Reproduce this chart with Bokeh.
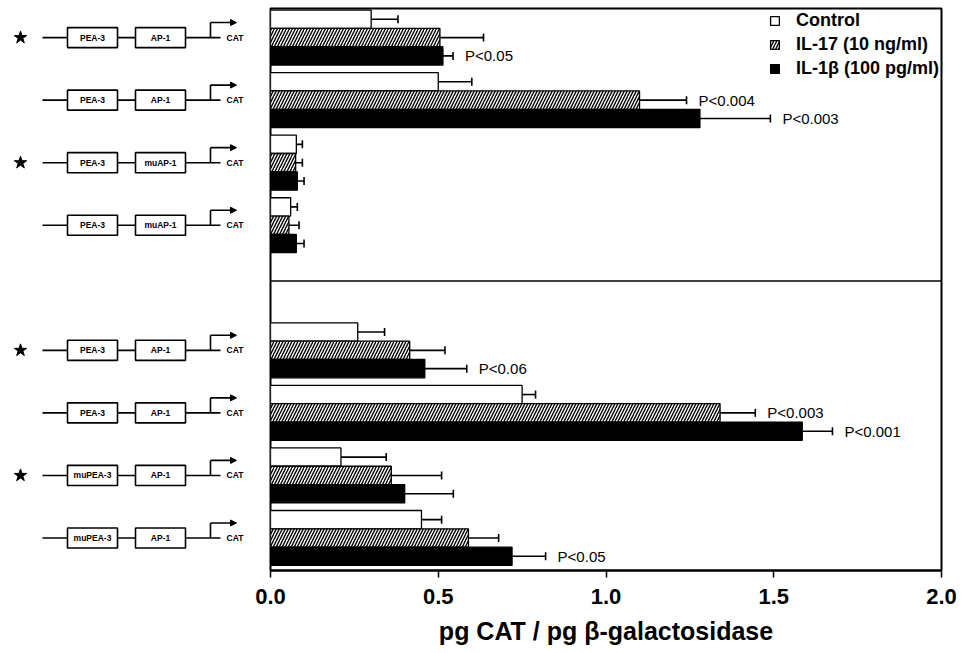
from bokeh.plotting import figure
from bokeh.models import (Range1d, ColumnDataSource, Whisker, TeeHead, Span, Legend, LegendItem,
                          FixedTicker, Arrow, NormalHead, NumeralTickFormatter)
from bokeh.layouts import row
from bokeh.embed import file_html
from bokeh.resources import INLINE
from bokeh.core.properties import value

# ---------------- data ----------------
box1_labels = ["PEA-3", "PEA-3", "PEA-3", "PEA-3", "PEA-3", "PEA-3", "muPEA-3", "muPEA-3"]
box2_labels = ["AP-1", "AP-1", "muAP-1", "muAP-1", "AP-1", "AP-1", "AP-1", "AP-1"]
starred = [True, False, True, False, True, False, True, False]

series_names = ["Control", "IL-17 (10 ng/ml)", "IL-1β (100 pg/ml)"]
control = [0.30, 0.50, 0.077, 0.060, 0.26, 0.75, 0.21, 0.45]
control_err = [0.08, 0.10, 0.018, 0.020, 0.08, 0.04, 0.135, 0.06]
il17 = [0.505, 1.10, 0.075, 0.055, 0.415, 1.34, 0.36, 0.59]
il17_err = [0.13, 0.14, 0.020, 0.030, 0.105, 0.105, 0.15, 0.09]
il1b = [0.514, 1.28, 0.080, 0.077, 0.46, 1.585, 0.40, 0.72]
il1b_err = [0.03, 0.21, 0.020, 0.023, 0.125, 0.09, 0.145, 0.10]

p_group = [0, 1, 1, 4, 5, 5, 7]
p_series = [2, 1, 2, 2, 1, 2, 2]
p_text = ["P<0.05", "P<0.004", "P<0.003", "P<0.06", "P<0.003", "P<0.001", "P<0.05"]

x_ticks = [0.0, 0.5, 1.0, 1.5, 2.0]
x_title = "pg CAT / pg β-galactosidase"

# ---------------- layout helpers ----------------
n = len(control)
slots = [i + (1 if i >= 4 else 0) for i in range(n)]
bar_h = 0.293
FONT = "Liberation Sans"

yr = Range1d(start=8.52, end=-0.465)

H = 650
TOP = 8
BOT = 80

p = figure(width=710, height=H, x_range=Range1d(0, 2.0), y_range=yr,
           output_backend="svg", toolbar_location=None,
           min_border_left=20, min_border_right=19, min_border_top=TOP, min_border_bottom=BOT)
p.xgrid.visible = False
p.ygrid.visible = False
p.yaxis.visible = False
p.outline_line_color = "black"
p.outline_line_width = 2
p.background_fill_color = "white"

values = [control, il17, il1b]
errs = [control_err, il17_err, il1b_err]
styles = [dict(fill_color="white"),
          dict(fill_color="white", hatch_pattern="right_diagonal_line", hatch_scale=6,
               hatch_weight=1.4, hatch_color="black"),
          dict(fill_color="black")]

renderers = []
for s in range(3):
    ys = [slots[i] + (s - 1) * bar_h for i in range(n)]
    src = ColumnDataSource(dict(y=ys, v=values[s],
                                u=[values[s][i] + errs[s][i] for i in range(n)]))
    r = p.hbar(y="y", right="v", left=0, height=bar_h, source=src,
               line_color="black", line_width=1.3, **styles[s])
    renderers.append(r)
    w = Whisker(source=src, base="y", lower="v", upper="u", dimension="width",
                lower_head=None, upper_head=TeeHead(size=8, line_width=1.6, line_color="black"),
                line_width=1.6, line_color="black")
    p.add_layout(w)

# p-value labels
px = [values[p_series[k]][p_group[k]] + errs[p_series[k]][p_group[k]] for k in range(len(p_text))]
py = [slots[p_group[k]] + (p_series[k] - 1) * bar_h for k in range(len(p_text))]
p.text(x=px, y=py, text=p_text, x_offset=12, text_baseline="middle", text_align="left",
       text_font=value(FONT), text_font_size="15px", text_color="black")

# divider between the two panels
p.add_layout(Span(location=3.89, dimension="width", line_color="black", line_width=1.5))

legend = Legend(items=[LegendItem(label=series_names[s], renderers=[renderers[s]]) for s in range(3)],
                location="top_right", border_line_color=None, background_fill_alpha=0,
                label_text_font=FONT, label_text_font_size="18px", label_text_font_style="bold",
                label_text_color="black",
                glyph_width=11, glyph_height=11, label_standoff=16, spacing=3, label_height=21,
                padding=0, margin=2)
p.add_layout(legend)

ax = p.xaxis
ax.ticker = FixedTicker(ticks=x_ticks)
ax.formatter = NumeralTickFormatter(format="0.0")
ax.axis_label = x_title
ax.axis_label_text_font = FONT
ax.axis_label_text_font_style = "bold"
ax.axis_label_text_font_size = "25px"
ax.axis_label_text_color = "black"
ax.axis_label_standoff = 10
ax.major_label_text_font = FONT
ax.major_label_text_font_style = "bold"
ax.major_label_text_font_size = "22px"
ax.major_label_text_color = "black"
ax.major_label_standoff = 11
ax.major_tick_out = 7
ax.major_tick_in = 0
ax.minor_tick_out = 0
ax.minor_tick_in = 0
ax.axis_line_width = 2
ax.axis_line_color = "black"
ax.major_tick_line_width = 1.5
ax.major_tick_line_color = "black"

# ---------------- left diagrams ----------------
q = figure(width=250, height=H, x_range=Range1d(0, 250), y_range=yr,
           output_backend="svg", toolbar_location=None,
           min_border_left=0, min_border_right=0, min_border_top=TOP, min_border_bottom=BOT)
q.outline_line_color = None
q.xgrid.visible = False
q.ygrid.visible = False
q.yaxis.visible = False
q.xaxis.visible = False

cy = [float(s) for s in slots]
box_hh = 0.16
rise = 0.24
q.segment(x0=[42] * n, x1=[220] * n, y0=cy, y1=cy, line_color="black", line_width=1.6)
q.segment(x0=[210] * n, x1=[210] * n, y0=cy, y1=[c - rise for c in cy], line_color="black", line_width=1.6)
q.rect(x=[92] * n, y=cy, width=50, height=2 * box_hh, fill_color="white", line_color="black", line_width=1.6)
q.rect(x=[160] * n, y=cy, width=50, height=2 * box_hh, fill_color="white", line_color="black", line_width=1.6)
q.text(x=[92] * n, y=cy, text=box1_labels, text_align="center", text_baseline="middle",
       text_font=value(FONT), text_font_style="bold", text_font_size="8.5px", text_color="black")
q.text(x=[160] * n, y=cy, text=box2_labels, text_align="center", text_baseline="middle",
       text_font=value(FONT), text_font_style="bold", text_font_size="8.5px", text_color="black")
q.text(x=[226] * n, y=cy, text=["CAT"] * n, text_align="left", text_baseline="middle",
       text_font=value(FONT), text_font_style="bold", text_font_size="8.5px", text_color="black")
arr_src = ColumnDataSource(dict(x0=[210] * n, x1=[236] * n, y=[c - rise for c in cy]))
q.add_layout(Arrow(source=arr_src, x_start="x0", y_start="y", x_end="x1", y_end="y",
                   line_color="black", line_width=1.6,
                   end=NormalHead(size=6, fill_color="black", line_color="black")))
star_y = [cy[i] for i in range(n) if starred[i]]
q.scatter(x=[20] * len(star_y), y=star_y, marker="star", size=13, fill_color="black", line_color="black")

layout = row(q, p)
open("out.html", "w").write(file_html(layout, INLINE))
